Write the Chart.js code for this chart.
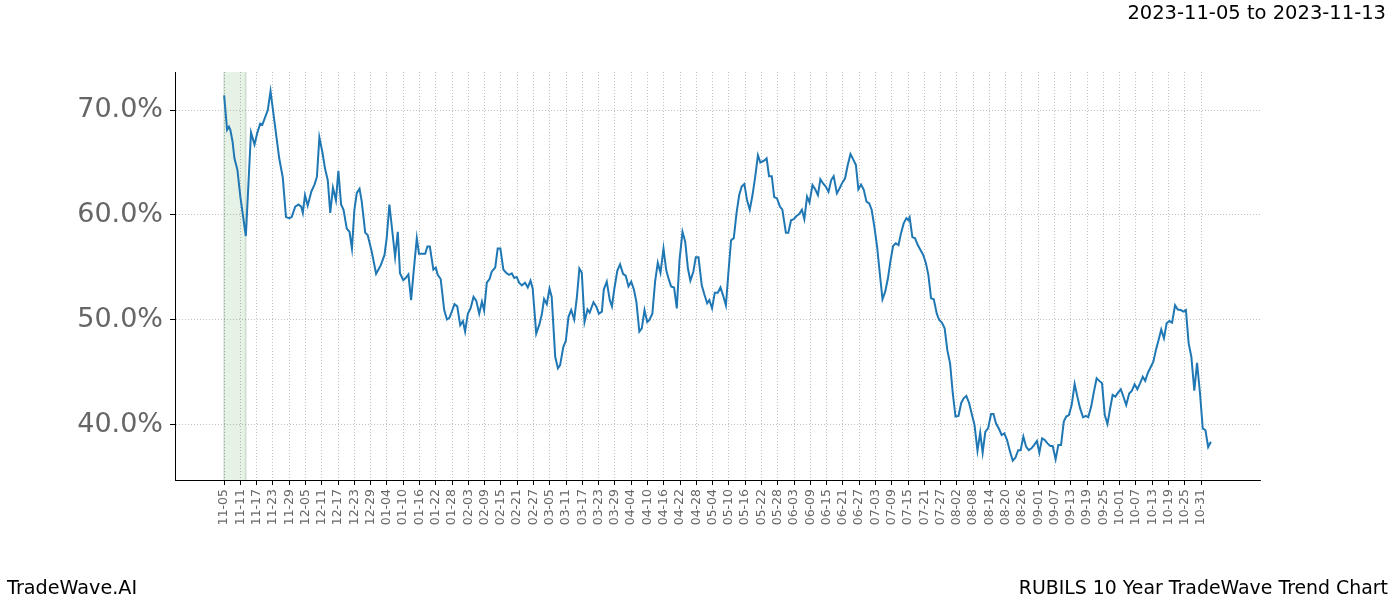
<!DOCTYPE html>
<html><head><meta charset="utf-8">
<script src="https://cdn.jsdelivr.net/npm/chart.js@4.4.1/dist/chart.umd.min.js"></script>
<style>
html,body{margin:0;padding:0;background:#fff;}
#wrap{position:relative;width:1400px;height:600px;overflow:hidden;}
canvas{position:absolute;left:0;top:0;}
.t{position:absolute;font-family:"DejaVu Sans";color:#000;white-space:nowrap;line-height:1;}
</style></head><body>
<div id="wrap">
<canvas id="c" width="1400" height="600"></canvas>
<div class="t" style="right:14px;top:3px;font-size:19.5px;">2023-11-05 to 2023-11-13</div>
<div class="t" style="left:7px;top:578px;font-size:19.2px;">TradeWave.AI</div>
<div class="t" style="right:12px;top:578px;font-size:18.9px;">RUBILS 10 Year TradeWave Trend Chart</div>
</div>
<script>
// day offsets from 11-05
const days = [
0.0,1.1,1.8,2.3,3.1,3.8,4.9,6.0,8.0,9.9,11.2,12.2,13.3,14.1,16.1,17.1,18.8,20.3,21.6,22.8,24.0,24.9,26.2,27.4,28.4,29.0,29.8,30.8,32.1,33.3,34.2,35.1,36.2,37.2,38.2,39.1,40.1,41.2,42.1,43.1,44.0,45.2,46.2,47.1,48.0,48.9,49.9,50.7,52.0,52.9,54.4,56.0,57.7,59.1,59.9,60.9,62.0,63.0,64.0,64.8,
66.0,66.9,67.9,68.9,69.9,71.0,71.8,72.8,74.1,74.9,75.8,77.1,78.0,78.7,79.8,81.1,82.1,83.0,83.9,84.9,85.9,87.0,88.0,88.8,89.8,90.8,91.9,92.9,94.0,95.0,95.8,96.8,97.8,98.6,99.9,100.8,101.8,102.9,103.9,105.0,106.0,106.9,107.8,108.7,109.7,110.9,111.9,112.9,113.7,115.0,116.2,117.1,117.9,118.9,119.9,120.7,122.0,123.0,123.8,125.0,125.9,126.9,127.9,129.0,130.0,130.9,
131.8,132.8,133.9,134.7,136.1,137.1,138.1,139.2,139.9,141.0,142.1,142.9,143.8,144.9,145.9,147.0,148.0,149.0,150.0,151.0,151.9,153.0,153.9,154.9,155.9,156.7,157.8,158.8,159.8,160.8,161.9,162.9,163.7,164.7,165.8,166.8,167.8,168.9,169.9,170.9,171.8,172.9,173.8,174.8,176.0,177.0,178.0,178.8,179.8,180.8,181.9,182.9,183.9,184.9,185.8,186.8,187.8,188.8,189.8,190.7,191.7,192.7,193.7,194.7,195.7,196.7,197.6,
199.1,199.9,200.8,201.8,202.7,203.7,204.8,205.7,207.0,207.9,208.9,209.9,210.9,211.9,212.9,213.8,214.8,215.7,216.8,217.8,218.8,219.7,220.7,221.7,222.7,223.7,224.6,225.8,226.7,227.8,228.8,229.8,230.8,231.8,232.8,233.7,234.7,235.7,236.7,237.7,238.6,239.6,240.6,241.6,242.6,243.6,244.6,245.5,246.5,247.5,248.5,249.4,250.4,251.4,252.1,252.6,253.6,254.6,255.6,256.6,257.6,258.6,259.5,260.5,261.5,262.6,263.5,
264.5,265.5,266.5,267.5,268.5,269.5,270.6,271.6,272.5,273.5,274.5,275.5,276.5,277.6,278.6,279.5,280.5,281.5,282.6,283.5,284.4,285.6,286.5,287.5,288.5,289.6,290.6,291.6,292.6,293.5,294.5,295.5,296.5,297.5,298.5,299.5,300.4,301.4,302.4,303.4,304.4,305.3,306.4,307.4,308.4,309.4,310.3,311.3,312.3,313.4,314.4,315.4,316.5,317.5,318.4,319.5,320.5,321.5,322.5,323.5,324.5,325.5,326.5,
327.4,328.4,329.4,330.4,331.3,332.4,333.5,334.5,335.5,336.5,337.5,338.5,339.4,340.4,341.4,342.4,343.4,344.4,345.3,346.3,347.3,348.3,349.3,350.4,351.4,352.5,353.5,354.4,355.4,356.4,357.5,358.5,359.6,360.6,361.6,362.6,363.6
];
// trend values (%)
const values = [
71.4,68.1,68.4,68.1,67.0,65.4,64.3,61.7,58.0,67.85,66.7,67.8,68.7,68.6,70.0,71.8,68.4,65.4,63.6,59.8,59.7,59.8,60.8,61.0,60.8,60.2,61.9,60.9,62.2,62.9,63.65,67.4,66.0,64.4,63.3,60.2,62.6,61.4,64.2,61.0,60.5,58.7,58.4,56.8,60.5,62.1,62.5,61.3,58.3,58.1,56.5,54.4,55.2,56.2,57.8,61.0,58.4,56.0,58.4,54.45,
53.8,54.0,54.35,51.9,54.8,57.8,56.3,56.3,56.3,57.0,57.0,54.8,55.0,54.3,53.9,50.95,50.05,50.2,50.8,51.5,51.3,49.5,49.9,48.9,50.6,51.1,52.2,51.85,50.6,51.75,50.9,53.55,53.9,54.6,55.0,56.8,56.8,54.8,54.5,54.3,54.45,54.0,54.1,53.55,53.3,53.55,53.1,53.75,53.0,48.7,49.6,50.6,52.0,51.5,53.0,52.2,46.5,45.4,45.7,47.45,48.0,50.3,50.95,50.05,52.2,54.9,
54.5,49.8,51.0,50.7,51.7,51.3,50.6,50.8,52.9,53.65,51.9,51.3,53.0,54.7,55.3,54.4,54.2,53.2,53.65,52.9,51.75,48.9,49.2,50.95,49.8,50.0,50.6,53.65,55.46,54.5,56.8,54.76,54.0,53.2,53.1,51.1,55.7,58.4,57.46,54.9,53.75,54.6,55.97,55.97,53.3,52.4,51.6,51.9,51.1,52.6,52.6,53.1,52.3,51.4,54.45,57.6,57.8,60.16,61.9,62.7,62.95,61.4,60.5,61.9,63.65,65.7,65.0,
65.2,65.4,63.7,63.7,61.7,61.6,60.8,60.5,58.3,58.3,59.5,59.6,59.9,60.1,60.5,59.6,61.75,61.2,62.86,62.45,61.9,63.4,63.0,62.7,62.2,63.33,63.7,62.06,62.5,63.08,63.5,64.76,65.8,65.3,64.76,62.45,62.9,62.4,61.27,61.1,60.5,58.9,57.0,54.45,51.97,52.7,53.97,55.56,57.05,57.3,57.14,58.25,59.2,59.7,59.5,59.78,57.9,57.78,57.14,56.67,56.2,55.4,54.3,52.06,51.97,50.6,50.0,
49.75,49.2,47.1,45.87,43.0,40.8,40.86,42.1,42.54,42.76,42.1,41.05,40.0,37.55,39.27,37.36,39.37,39.68,41.05,41.05,40.16,39.59,39.05,39.2,38.57,37.46,36.6,36.9,37.6,37.6,38.9,37.95,37.6,37.78,38.1,38.48,37.36,38.73,38.57,38.25,38.0,38.0,36.73,38.1,38.1,40.33,40.8,40.95,41.9,43.9,42.7,41.6,40.73,40.86,40.73,41.75,43.17,44.45,44.2,43.97,40.95,40.1,41.6,
42.86,42.7,43.08,43.4,42.76,41.9,43.0,43.27,43.87,43.4,43.97,44.6,44.2,44.98,45.5,46.03,47.2,48.16,49.1,48.25,49.68,49.9,49.75,51.4,51.0,50.95,50.8,50.95,47.8,46.5,43.27,45.93,43.0,39.68,39.5,37.9,38.4
];
const tickLabels = ["11-05","11-11","11-17","11-23","11-29","12-05","12-11","12-17","12-23","12-29","01-04","01-10","01-16","01-22","01-28","02-03","02-09","02-15","02-21","02-27","03-05","03-11","03-17","03-23","03-29","04-04","04-10","04-16","04-22","04-28","05-04","05-10","05-16","05-22","05-28","06-03","06-09","06-15","06-21","06-27","07-03","07-09","07-15","07-21","07-27","08-02","08-08","08-14","08-20","08-26","09-01","09-07","09-13","09-19","09-25","10-01","10-07","10-13","10-19","10-25","10-31"];
const tickStep = 6;
const yTicks = [40,50,60,70];
const bandStart = 0, bandEnd = 8;

Chart.defaults.font.family = 'DejaVu Sans';
const bandPlugin = {
  id:'band',
  beforeDatasetsDraw(chart){
    const {ctx, chartArea:a, scales:{x}} = chart;
    const x0 = x.getPixelForValue(bandStart), x1 = x.getPixelForValue(bandEnd);
    ctx.save();
    ctx.fillStyle = 'rgba(0,128,0,0.1)';
    ctx.fillRect(x0, a.top, x1-x0, a.bottom-a.top);
    ctx.strokeStyle = 'rgba(0,90,0,0.12)';
    ctx.lineWidth = 2;
    ctx.beginPath();
    ctx.moveTo(x0, a.top); ctx.lineTo(x0, a.bottom);
    ctx.moveTo(x1, a.top); ctx.lineTo(x1, a.bottom);
    ctx.stroke();
    ctx.restore();
  }
};
new Chart(document.getElementById('c'), {
  type:'line',
  data:{datasets:[{
    data: days.map((d,i)=>({x:d,y:values[i]})),
    borderColor:'#1f77b4', borderWidth:2, pointRadius:0, tension:0, fill:false
  }]},
  options:{
    responsive:false, animation:false, devicePixelRatio:1,
    layout:{padding:{top:72,right:140,left:0,bottom:0}},
    plugins:{legend:{display:false}, tooltip:{enabled:false}},
    scales:{
      x:{type:'linear', min:-18.1, max:381.7,
        afterBuildTicks:s=>{ s.ticks = tickLabels.map((l,i)=>({value:i*tickStep})); },
        afterFit:s=>{ s.height = 120; },
        grid:{color:'rgba(0,0,0,0.3)', lineWidth:0.8, tickColor:'#000', tickLength:5, tickWidth:1, tickBorderDash:[]},
        border:{display:true, color:'#000', width:1, dash:[1,2]},
        ticks:{autoSkip:false, minRotation:90, maxRotation:90, padding:4, color:'#666', font:{size:12.5},
          callback:(v,i)=>tickLabels[i]}
      },
      y:{type:'linear', min:34.76, max:73.62,
        afterBuildTicks:s=>{ s.ticks = yTicks.map(v=>({value:v})); },
        afterFit:s=>{ s.width = 175; },
        grid:{color:'rgba(0,0,0,0.3)', lineWidth:0.8, tickColor:'#000', tickLength:5, tickWidth:1, tickBorderDash:[]},
        border:{display:true, color:'#000', width:1, dash:[1,2]},
        ticks:{padding:7, color:'#666', font:{size:27}, callback:v=>v.toFixed(1)+'%'}
      }
    }
  },
  plugins:[bandPlugin]
});
</script>
</body></html>
